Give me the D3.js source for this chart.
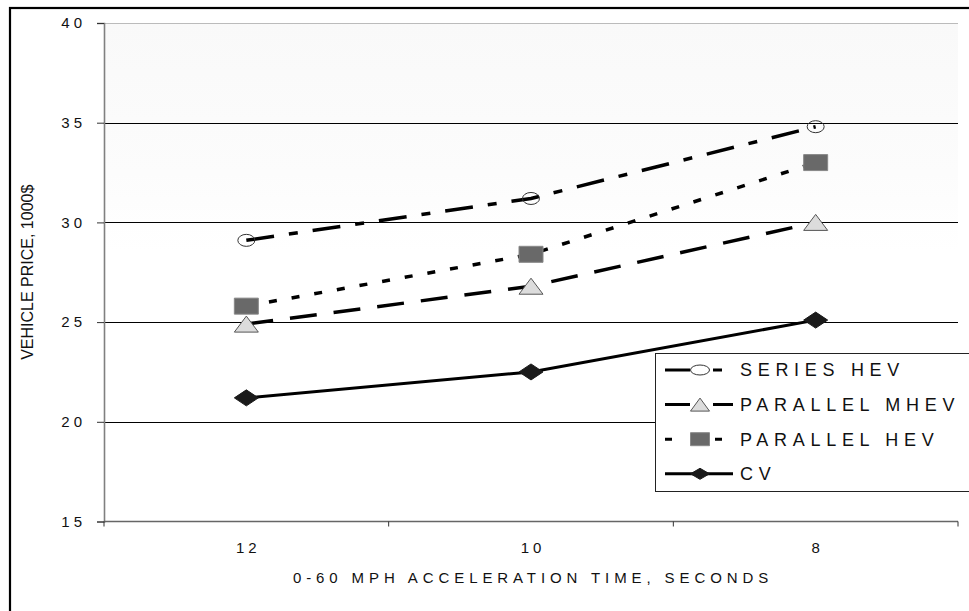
<!DOCTYPE html>
<html>
<head>
<meta charset="utf-8">
<script src="https://cdn.jsdelivr.net/npm/d3@7"></script>
<style>
  body { margin: 0; background: #fff; }
  svg { display: block; font-family: "Liberation Sans", Arial, sans-serif; }
</style>
</head>
<body>
<div class="viz"></div>
<script>
// data
var categories = ["12", "10", "8"];
var seriesNames = ["SERIES HEV", "PARALLEL MHEV", "PARALLEL HEV", "CV"];
var seriesHEV = [29.1, 31.2, 34.8];
var parallelMHEV = [24.9, 26.8, 30.0];
var parallelHEV = [25.8, 28.4, 33.0];
var cvPrice = [21.2, 22.5, 25.1];
var yTicks = [15, 20, 25, 30, 35, 40];
var yTitle = "VEHICLE PRICE, 1000$";
var xTitle = "0-60 MPH ACCELERATION TIME, SECONDS";

var SVGwd = 969, SVGht = 611;
// plot box (window.top is taken, so prefixed names)
var pLeft = 104, pRight = 958, pTop = 23, pBottom = 521.5;

var svg = d3.select(".viz")
    .append("svg")
    .attr("width", SVGwd)
    .attr("height", SVGht);

var x = d3.scaleBand().domain(categories).range([pLeft, pRight]);
var y = d3.scaleLinear().domain([15, 40]).range([pBottom, pTop]);
var cx = function (i) { return x(categories[i]) + x.bandwidth() / 2; };

// figure frame
svg.append("rect")
    .attr("x", 10).attr("y", 8)
    .attr("width", 1000).attr("height", 1000)
    .attr("fill", "none")
    .attr("stroke", "#000")
    .attr("stroke-width", 2.2);

// plot background, faint gray fading to white
var grad = svg.append("defs").append("linearGradient")
    .attr("id", "bg").attr("x1", 0).attr("y1", 0).attr("x2", 0).attr("y2", 1);
grad.append("stop").attr("offset", "0%").attr("stop-color", "#f9f9f9");
grad.append("stop").attr("offset", "30%").attr("stop-color", "#fcfcfc");
grad.append("stop").attr("offset", "46%").attr("stop-color", "#ffffff");
svg.append("rect")
    .attr("x", pLeft).attr("y", pTop)
    .attr("width", pRight - pLeft).attr("height", pBottom - pTop)
    .attr("fill", "url(#bg)");

// gridlines
svg.append("g").selectAll("line")
    .data(yTicks.slice(1))
    .join("line")
    .attr("x1", pLeft).attr("x2", pRight)
    .attr("y1", d => Math.round(y(d)) + 0.5)
    .attr("y2", d => Math.round(y(d)) + 0.5)
    .attr("stroke", d => d == 40 ? "#bbb" : "#000")
    .attr("stroke-width", 1);

// y axis
var yAxis = svg.append("g")
    .attr("transform", `translate(${pLeft},0)`)
    .call(d3.axisLeft(y).tickValues(yTicks).tickSize(7).tickPadding(11));
yAxis.select(".domain").attr("stroke", "#808080").attr("stroke-width", 1.6);
yAxis.selectAll(".tick line").attr("stroke", "#333");
yAxis.selectAll(".tick text")
    .style("font-size", "15px")
    .style("letter-spacing", "4px")
    .attr("fill", "#111");

// x axis
svg.append("line")
    .attr("x1", pLeft).attr("x2", pRight)
    .attr("y1", pBottom).attr("y2", pBottom)
    .attr("stroke", "#666").attr("stroke-width", 1.6);
svg.append("g").selectAll("line")
    .data(categories.map(c => x(c)).concat([pRight]))
    .join("line")
    .attr("x1", d => d).attr("x2", d => d)
    .attr("y1", pBottom).attr("y2", pBottom + 5)
    .attr("stroke", "#333");
svg.append("g").selectAll("text")
    .data(categories)
    .join("text")
    .attr("x", (d, i) => cx(i) + 2)
    .attr("y", 552.5)
    .attr("text-anchor", "middle")
    .style("font-size", "15px")
    .style("letter-spacing", "4px")
    .attr("fill", "#111")
    .text(d => d);

// axis titles
svg.append("text")
    .attr("transform", `translate(33,${(pTop + pBottom) / 2}) rotate(-90)`)
    .attr("text-anchor", "middle")
    .style("font-size", "16px")
    .attr("fill", "#111")
    .text(yTitle);
svg.append("text")
    .attr("x", (pLeft + pRight) / 2 + 2)
    .attr("y", 582.5)
    .attr("text-anchor", "middle")
    .style("font-size", "15px")
    .style("letter-spacing", "4.9px")
    .attr("fill", "#111")
    .text(xTitle);

// marker shapes, w x h box centred on 0,0
function markerPath(kind, w, h) {
    var a = w / 2, b = h / 2;
    if (kind == "tri") return `M0,${-b}L${a},${b}L${-a},${b}Z`;
    if (kind == "sq") return `M${-a},${-b}H${a}V${b}H${-a}Z`;
    if (kind == "dia") return `M0,${-b}L${a},0L0,${b}L${-a},0Z`;
    return `M${-a},0A${a},${b} 0 1,0 ${a},0A${a},${b} 0 1,0 ${-a},0Z`;
}

var series = [
    { name: seriesNames[0], values: seriesHEV, dash: "28,15,9,15", width: 3.5, kind: "ell",
      fill: "none", stroke: "#333", legDash: "25,23,9,100" },
    { name: seriesNames[1], values: parallelMHEV, dash: "27,17", width: 3.5, kind: "tri",
      fill: "#dcdcdc", stroke: "#555", legDash: "25,23,22" },
    { name: seriesNames[2], values: parallelHEV, dash: "8,15", width: 3.5, kind: "sq",
      fill: "#696969", stroke: "#888", legDash: "7,43,7,100" },
    { name: seriesNames[3], values: cvPrice, dash: null, width: 3, kind: "dia",
      fill: "#1a1a1a", stroke: "#1a1a1a", legDash: null }
];

var line = d3.line()
    .x((d, i) => cx(i))
    .y(d => y(d));

var lines = svg.append("g");
series.forEach(function (s) {
    lines.append("path")
        .datum(s.values)
        .attr("d", line)
        .attr("fill", "none")
        .attr("stroke", "#000")
        .attr("stroke-width", s.width)
        .attr("stroke-dasharray", s.dash);
});

var marks = svg.append("g");
series.forEach(function (s) {
    var w = s.kind == "ell" ? 17 : 24;
    var h = s.kind == "ell" ? 12 : 16;
    marks.append("g").selectAll("path")
        .data(s.values)
        .join("path")
        .attr("transform", (d, i) => `translate(${cx(i)},${y(d)})`)
        .attr("d", markerPath(s.kind, w, h))
        .attr("fill", s.fill)
        .attr("stroke", s.stroke)
        .attr("stroke-width", 1);
});

// legend
var legend = svg.append("g").attr("transform", "translate(655,353)");
legend.append("rect")
    .attr("x", 0.5).attr("y", 0.5)
    .attr("width", 400).attr("height", 138)
    .attr("fill", "#fff")
    .attr("stroke", "#222")
    .attr("stroke-width", 1);

var legendRows = legend.selectAll("g.row")
    .data(series)
    .join("g")
    .attr("class", "row")
    .attr("transform", (d, i) => `translate(0,${17 + i * 34.6})`);
legendRows.append("line")
    .attr("x1", 10).attr("x2", 78)
    .attr("y1", 0).attr("y2", 0)
    .attr("stroke", "#000")
    .attr("stroke-width", 3)
    .attr("stroke-dasharray", d => d.legDash);
legendRows.append("path")
    .attr("transform", "translate(45,0)")
    .attr("d", d => markerPath(d.kind, 19, d.kind == "ell" ? 10 : d.kind == "dia" ? 11 : 13))
    .attr("fill", d => d.fill == "none" ? "#fff" : d.fill)
    .attr("stroke", d => d.stroke)
    .attr("stroke-width", 1);
legendRows.append("text")
    .attr("x", 85)
    .attr("y", 0)
    .attr("dy", "0.36em")
    .style("font-size", "18px")
    .style("letter-spacing", "5.7px")
    .attr("fill", "#111")
    .text(d => d.name);
</script>
</body>
</html>
